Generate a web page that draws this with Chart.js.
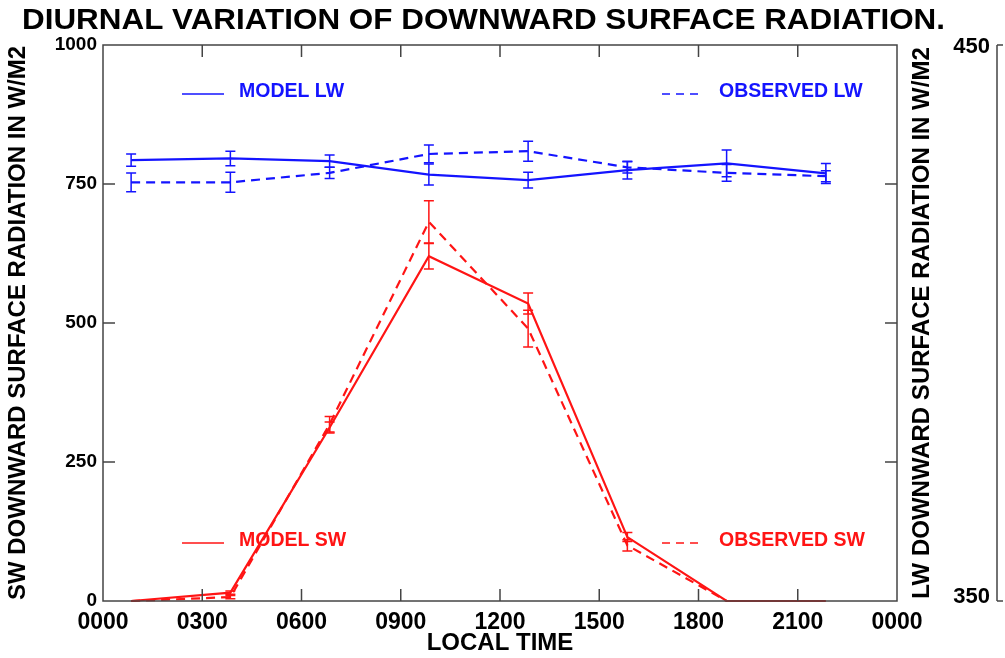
<!DOCTYPE html>
<html>
<head>
<meta charset="utf-8">
<script src="https://cdn.jsdelivr.net/npm/chart.js@4.4.0/dist/chart.umd.min.js"></script>
<style>
  html, body { margin: 0; padding: 0; background: #fff; }
  #wrap { width: 1005px; height: 658px; position: relative; }
</style>
</head>
<body>
<div id="wrap"><canvas id="radChart"></canvas></div>
<script>
// Local time of each 3-hourly mean (hours)
var hours = [0.85, 3.85, 6.85, 9.85, 12.85, 15.85, 18.85, 21.85];

// Shortwave (left axis)
var modelSW    = [0, 15, 312, 620, 535, 115, 0, 0];
var modelSWErr = [0, 3, 10, 23, 19, 8, 0, 0];
var obsSW      = [0, 7, 318, 682, 490, 100, 0, 0];
var obsSWErr   = [0, 3, 14, 38, 33, 10, 0, 0];

// Longwave (right axis)
var modelLW    = [429.3, 429.6, 429.1, 426.7, 425.7, 427.5, 428.7, 426.9];
var modelLWErr = [1.1, 1.3, 1.1, 1.9, 1.4, 1.6, 2.4, 1.8];
var obsLW      = [425.3, 425.3, 427.0, 430.4, 430.9, 428.0, 427.0, 426.4];
var obsLWErr   = [1.7, 1.8, 1.0, 1.6, 1.8, 1.0, 1.5, 1.0];

// Axis ticks
var timeTicks = [0, 3, 6, 9, 12, 15, 18, 21, 24];
var swTicks = [0, 250, 500, 750, 1000];
var lwTicks = [350, 450];

var BLUE = '#1414ff';
var RED = '#ff1414';
var FRAME = '#444444';
var FONT = '"Liberation Sans", Arial, sans-serif';

function toPoints(xs, ys) {
    return xs.map(function(x, i) { return { x: x, y: ys[i] }; });
}

function timeLabel(v) {
    var h = v % 24;
    return (h < 10 ? '0' : '') + h + '00';
}

// Error bars, frame, inward ticks, right LW axis, legend and title
var decorations = {
    id: 'decorations',
    afterDatasetsDraw: function(chart) {
        var ctx = chart.ctx;
        var a = chart.chartArea;
        var xs = chart.scales.x, ys = chart.scales.y, y2 = chart.scales.y2;

        // error bars
        chart.data.datasets.forEach(function(ds) {
            if (!ds.err) return;
            var sc = chart.scales[ds.yAxisID];
            ctx.save();
            ctx.strokeStyle = ds.borderColor;
            ctx.lineWidth = 1.5;
            ds.data.forEach(function(p, i) {
                var e = ds.err[i];
                if (!e) return;
                var px = xs.getPixelForValue(p.x);
                var top = sc.getPixelForValue(p.y + e);
                var bot = sc.getPixelForValue(p.y - e);
                ctx.beginPath();
                ctx.moveTo(px, top); ctx.lineTo(px, bot);
                ctx.moveTo(px - 5, top); ctx.lineTo(px + 5, top);
                ctx.moveTo(px - 5, bot); ctx.lineTo(px + 5, bot);
                ctx.stroke();
            });
            ctx.restore();
        });

        // frame
        ctx.save();
        ctx.strokeStyle = FRAME;
        ctx.lineWidth = 1.5;
        ctx.strokeRect(a.left, a.top, a.right - a.left, a.bottom - a.top);

        // inward tick marks
        ctx.beginPath();
        timeTicks.forEach(function(t) {
            if (t === 0 || t === 24) return;
            var px = xs.getPixelForValue(t);
            ctx.moveTo(px, a.bottom); ctx.lineTo(px, a.bottom - 12);
            ctx.moveTo(px, a.top); ctx.lineTo(px, a.top + 12);
        });
        swTicks.forEach(function(t) {
            if (t === 0 || t === 1000) return;
            var py = ys.getPixelForValue(t);
            ctx.moveTo(a.left, py); ctx.lineTo(a.left + 12, py);
            ctx.moveTo(a.right, py); ctx.lineTo(a.right - 12, py);
        });
        ctx.stroke();

        // right LW axis
        var axX = 997;
        ctx.beginPath();
        ctx.moveTo(axX, y2.getPixelForValue(lwTicks[0]));
        ctx.lineTo(axX, y2.getPixelForValue(lwTicks[lwTicks.length - 1]));
        lwTicks.forEach(function(t) {
            var py = y2.getPixelForValue(t);
            ctx.moveTo(axX, py); ctx.lineTo(axX + 6, py);
        });
        ctx.stroke();
        ctx.fillStyle = '#000';
        ctx.font = 'bold 22px ' + FONT;
        ctx.textAlign = 'right';
        ctx.textBaseline = 'middle';
        lwTicks.forEach(function(t, i) {
            ctx.fillText(String(t), 990, y2.getPixelForValue(t) + (i === 0 ? -4 : 2));
        });
        ctx.save();
        ctx.translate(922, (a.top + a.bottom) / 2);
        ctx.rotate(-Math.PI / 2);
        ctx.textAlign = 'center';
        ctx.font = 'bold 24px ' + FONT;
        ctx.fillText('LW DOWNWARD SURFACE RADIATION IN W/M2', 0, 0);
        ctx.restore();

        // legend
        var items = [
            { text: 'MODEL LW', color: BLUE, dash: [], x: 182, y: 94 },
            { text: 'OBSERVED LW', color: BLUE, dash: [8, 6], x: 662, y: 94 },
            { text: 'MODEL SW', color: RED, dash: [], x: 182, y: 543 },
            { text: 'OBSERVED SW', color: RED, dash: [8, 6], x: 662, y: 543 }
        ];
        ctx.font = 'bold 19.5px ' + FONT;
        ctx.textAlign = 'left';
        items.forEach(function(it) {
            ctx.strokeStyle = it.color;
            ctx.fillStyle = it.color;
            ctx.lineWidth = 1.6;
            ctx.setLineDash(it.dash);
            ctx.beginPath();
            ctx.moveTo(it.x, it.y); ctx.lineTo(it.x + 42, it.y);
            ctx.stroke();
            ctx.setLineDash([]);
            ctx.fillText(it.text, it.x + 57, it.y - 2);
        });

        // title, squeezed to the reference width
        var title = 'DIURNAL VARIATION OF DOWNWARD SURFACE RADIATION.';
        ctx.font = 'bold 30px ' + FONT;
        ctx.fillStyle = '#000';
        var w = ctx.measureText(title).width;
        ctx.save();
        ctx.translate(22, 21);
        ctx.scale(923 / w, 1);
        ctx.textBaseline = 'middle';
        ctx.fillText(title, 0, 0);
        ctx.restore();

        ctx.restore();
    }
};

var ctx = document.getElementById('radChart').getContext('2d');
var radChart = new Chart(ctx, {
    type: 'line',
    data: {
        datasets: [
            {
                label: 'MODEL LW',
                data: toPoints(hours, modelLW),
                err: modelLWErr,
                yAxisID: 'y2',
                borderColor: BLUE,
                borderWidth: 2.2,
                pointRadius: 0
            },
            {
                label: 'OBSERVED LW',
                data: toPoints(hours, obsLW),
                err: obsLWErr,
                yAxisID: 'y2',
                borderColor: BLUE,
                borderWidth: 2.2,
                borderDash: [9, 6],
                pointRadius: 0
            },
            {
                label: 'MODEL SW',
                data: toPoints(hours, modelSW),
                err: modelSWErr,
                yAxisID: 'y',
                borderColor: RED,
                borderWidth: 2.2,
                pointRadius: 0
            },
            {
                label: 'OBSERVED SW',
                data: toPoints(hours, obsSW),
                err: obsSWErr,
                yAxisID: 'y',
                borderColor: RED,
                borderWidth: 2.2,
                borderDash: [9, 6],
                pointRadius: 0
            }
        ]
    },
    options: {
        responsive: true,
        maintainAspectRatio: false,
        animation: false,
        clip: false,
        layout: { padding: { left: 0, right: 108, top: 45, bottom: 0 } },
        plugins: {
            legend: { display: false },
            title: { display: false },
            tooltip: { enabled: false }
        },
        scales: {
            x: {
                type: 'linear',
                min: 0,
                max: 24,
                afterBuildTicks: function(s) {
                    s.ticks = timeTicks.map(function(v) { return { value: v }; });
                },
                afterFit: function(s) { s.height = 57; },
                grid: { display: false, drawTicks: false },
                border: { display: false },
                ticks: {
                    color: '#000',
                    padding: 8,
                    maxRotation: 0,
                    font: { family: FONT, size: 23, weight: 'bold' },
                    callback: function(v) { return timeLabel(v); }
                },
                title: {
                    display: true,
                    text: 'LOCAL TIME',
                    color: '#000',
                    padding: { top: 0, bottom: 0 },
                    font: { family: FONT, size: 24, weight: 'bold' }
                }
            },
            y: {
                position: 'left',
                min: 0,
                max: 1000,
                afterBuildTicks: function(s) {
                    s.ticks = swTicks.map(function(v) { return { value: v }; });
                },
                afterFit: function(s) { s.width = 103; },
                grid: { display: false, drawTicks: false },
                border: { display: false },
                ticks: {
                    color: '#000',
                    padding: 6,
                    font: { family: FONT, size: 19, weight: 'bold' },
                    callback: function(v) { return String(v); }
                },
                title: {
                    display: true,
                    text: 'SW DOWNWARD SURFACE RADIATION IN W/M2',
                    color: '#000',
                    padding: { top: 4, bottom: 0 },
                    font: { family: FONT, size: 24, weight: 'bold' }
                }
            },
            y2: {
                position: 'right',
                display: false,
                min: 350,
                max: 450
            }
        }
    },
    plugins: [decorations]
});
</script>
</body>
</html>
